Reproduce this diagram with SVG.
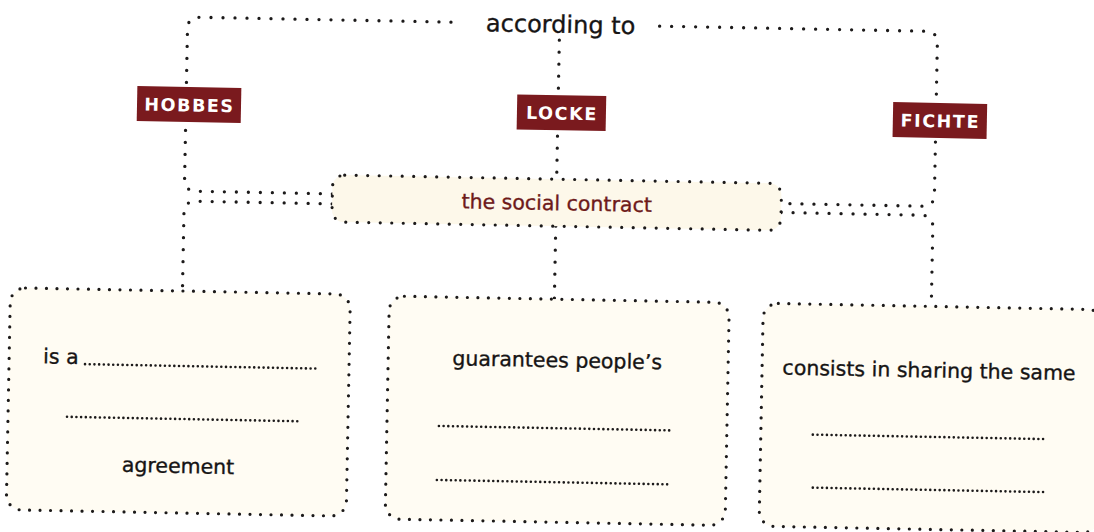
<svg xmlns="http://www.w3.org/2000/svg" width="1094" height="532" viewBox="0 0 1094 532">
  <style>
    .dots { fill: none; stroke: #1c1a1a; stroke-width: 3.3; stroke-linecap: round; stroke-dasharray: 0 12; }
    .frame { fill: #fffcf3; stroke: #1c1a1a; stroke-width: 3.2; stroke-linecap: round; stroke-dasharray: 0 10.5; }
    .blank { fill: none; stroke: #1c1a1a; stroke-width: 2.6; stroke-linecap: round; stroke-dasharray: 0 4.7; }
    .tag rect { fill: #7a1a1e; }
    .tag text { fill: #ffffff; font-family: "DejaVu Sans", Verdana, sans-serif; font-weight: bold; font-size: 17.5px; letter-spacing: 1.6px; text-anchor: middle; }
    .body { fill: #161414; stroke: #161414; stroke-width: 0.35; font-family: "DejaVu Sans", Verdana, sans-serif; font-size: 20.5px; }
    .mid { text-anchor: middle; }
  </style>
  <rect width="1094" height="532" fill="#ffffff"/>
  <g transform="rotate(1.1 547 266)">
    <!-- dotted connectors -->
    <g id="connectors">
      <path class="dots" d="M331,198 H195 Q183,198 183,186 V36 Q183,24 195,24 H454"/>
      <path class="dots" d="M655,24 H921 Q933,24 933,36 V187 Q933,199 921,199 H780"/>
      <path class="dots" d="M555,40 V179"/>
      <path class="dots" d="M331,208 H195 Q183,208 183,220 V298"/>
      <path class="dots" d="M555,226 V299"/>
      <path class="dots" d="M780,208 H920 Q932,208 932,220 V299"/>
    </g>

    <g id="according-to">
      <text class="body mid" x="556" y="32.5" style="font-size:24px">according to</text>
    </g>

    <g id="hobbes" class="tag">
      <rect x="134" y="94" width="104" height="35"/>
      <text x="186.5" y="118.3">HOBBES</text>
    </g>
    <g id="locke" class="tag">
      <rect x="514" y="95" width="89" height="35"/>
      <text x="559" y="119.3">LOCKE</text>
    </g>
    <g id="fichte" class="tag">
      <rect x="890" y="95.5" width="94" height="35"/>
      <text x="937.5" y="119.8">FICHTE</text>
    </g>

    <g id="social-contract">
      <rect x="331" y="179" width="449" height="47" rx="12" class="frame" style="fill:#fdf8ea;stroke-dasharray:0 11.5"/>
      <text class="body mid" x="555.5" y="210" style="font-size:20.5px;fill:#6e1a1a;stroke:#6e1a1a">the social contract</text>
    </g>

    <g id="box-agreement">
      <rect x="11" y="298" width="340" height="222" rx="15" class="frame"/>
      <text class="body" x="45" y="373">is a</text>
      <path class="blank" d="M87,373 H320"/>
      <path class="blank" d="M70,426 H303"/>
      <text class="body mid" x="182" y="480">agreement</text>
    </g>

    <g id="box-guarantees">
      <rect x="390" y="299" width="340" height="223" rx="15" class="frame"/>
      <text class="body mid" x="559" y="367">guarantees people’s</text>
      <path class="blank" d="M442,428 H675"/>
      <path class="blank" d="M441,482 H675"/>
    </g>

    <g id="box-sharing">
      <rect x="764" y="299" width="340" height="223" rx="15" class="frame"/>
      <text class="body mid" x="931" y="370">consists in sharing the same</text>
      <path class="blank" d="M816,429.5 H1050"/>
      <path class="blank" d="M817,482.5 H1051"/>
    </g>
  </g>
</svg>
